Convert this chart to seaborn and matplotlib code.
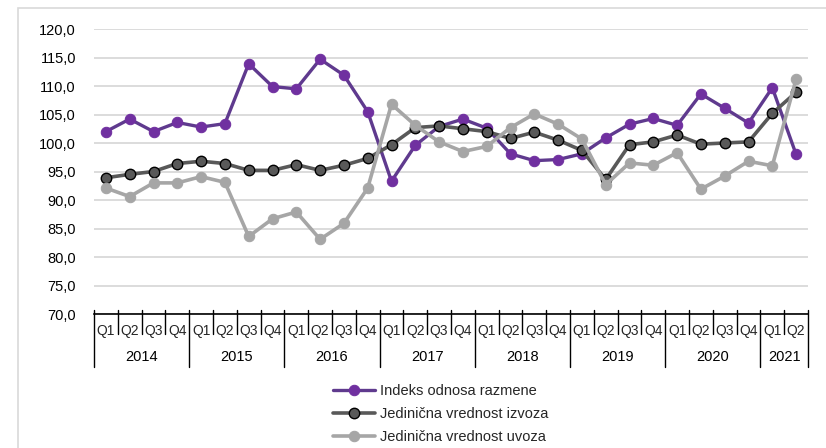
import numpy as np
import pandas as pd
import seaborn as sns
import matplotlib.pyplot as plt
import matplotlib.transforms as mtransforms
from matplotlib.patches import Rectangle

# podaci po kvartalima, 2014 Q1 - 2021 Q2
years = ['2014', '2015', '2016', '2017', '2018', '2019', '2020', '2021']
quarters = ['Q1', 'Q2', 'Q3', 'Q4'] * 7 + ['Q1', 'Q2']

indeks = [102.0, 104.2, 102.0, 103.6,
          102.8, 103.4, 113.9, 109.9,
          109.5, 114.7, 111.9, 105.5,
          93.3, 99.6, 102.9, 104.2,
          102.6, 98.1, 96.9, 97.1,
          98.1, 100.9, 103.3, 104.3,
          103.1, 108.6, 106.1, 103.5,
          109.7, 98.0]
izvoz = [93.9, 94.5, 95.0, 96.4,
         96.8, 96.4, 95.2, 95.2,
         96.2, 95.2, 96.1, 97.3,
         99.7, 102.7, 103.0, 102.5,
         102.0, 100.8, 101.9, 100.5,
         98.7, 93.6, 99.7, 100.2,
         101.4, 99.8, 100.0, 100.2,
         105.2, 108.9]
uvoz = [92.1, 90.6, 93.0, 93.0,
        94.1, 93.1, 83.6, 86.7,
        87.9, 83.1, 85.9, 92.1,
        106.8, 103.1, 100.2, 98.5,
        99.4, 102.7, 105.1, 103.3,
        100.7, 92.7, 96.5, 96.1,
        98.3, 91.9, 94.2, 96.8,
        96.0, 111.2]

labels = ['Indeks odnosa razmene', 'Jedinična vrednost izvoza', 'Jedinična vrednost uvoza']

n = len(quarters)
df = pd.DataFrame({'x': np.arange(n), 'indeks': indeks, 'izvoz': izvoz, 'uvoz': uvoz})

sns.set_theme(style="white")
plt.rcParams['font.family'] = ['Liberation Sans', 'DejaVu Sans']

fig = plt.figure(figsize=(8.26, 4.48), dpi=100)
W, H = 826, 448
ax = fig.add_axes([94 / W, 1 - 314 / H, (808 - 94) / W, (314 - 29) / H])

# okvir oko grafikona
fig.patches.append(Rectangle((18 / W, -0.1), 1.2, 1 - 8 / H + 0.1, transform=fig.transFigure,
                             fill=False, edgecolor='#D9D9D9', linewidth=1.2))

sns.lineplot(data=df, x='x', y='indeks', ax=ax, color='#5F3A8E', linewidth=2.4,
             marker='o', markersize=7.5, markerfacecolor='#7030A0', markeredgecolor='#7030A0',
             label=labels[0], zorder=3)
sns.lineplot(data=df, x='x', y='izvoz', ax=ax, color='#595959', linewidth=2.6,
             marker='o', markersize=7.5, markerfacecolor='#595959', markeredgecolor='black',
             markeredgewidth=1.0, label=labels[1], zorder=3)
sns.lineplot(data=df, x='x', y='uvoz', ax=ax, color='#A6A6A6', linewidth=2.6,
             marker='o', markersize=7.5, markerfacecolor='#A6A6A6', markeredgecolor='#A6A6A6',
             label=labels[2], zorder=3)

ax.set_xlim(-0.5, n - 0.5)
ax.set_ylim(70, 120)
ax.set_yticks(np.arange(70, 121, 5))
ax.set_yticklabels([f'{v:.1f}'.replace('.', ',') for v in np.arange(70, 121, 5)], fontsize=10.5)
ax.yaxis.grid(True, color='#D9D9D9', linewidth=1.3)
ax.set_axisbelow(True)
ax.tick_params(axis='y', length=0, pad=13, labelcolor='black')
for s in ['left', 'right', 'top']:
    ax.spines[s].set_visible(False)
ax.spines['bottom'].set_color('black')
ax.spines['bottom'].set_linewidth(1.2)

# oznake kvartala
ax.set_xticks(np.arange(n))
ax.set_xticklabels(quarters, fontsize=10)
ax.tick_params(axis='x', direction='in', length=3, width=0.8, color='black', pad=7)
ax.set_xlabel('')
ax.set_ylabel('')

trans = mtransforms.blended_transform_factory(ax.transData, ax.transAxes)
ah = 314 - 29
for i in range(n + 1):
    year_edge = (i % 4 == 0) or i == n
    bottom = -(367 - 314) / ah if year_edge else -(334 - 314) / ah
    ax.plot([i - 0.5, i - 0.5], [4 / ah, bottom], transform=trans, color='black',
            linewidth=1.0, clip_on=False)

# godine
for k, y in enumerate(years):
    idx = [i for i in range(n) if i // 4 == k]
    ax.text(np.mean(idx), -(357 - 314) / ah, y, transform=trans, ha='center', va='center',
            fontsize=10.5, color='black')

ax.get_legend().remove()
h, l = ax.get_legend_handles_labels()
fig.legend(h, l, loc='upper left', bbox_to_anchor=(333 / W, 1 - 384 / H), frameon=False,
           fontsize=10.5, handlelength=2.9, handletextpad=0.3, labelspacing=0.62,
           borderpad=0, borderaxespad=0)

plt.savefig('out.png', dpi=100)
plt.close()
